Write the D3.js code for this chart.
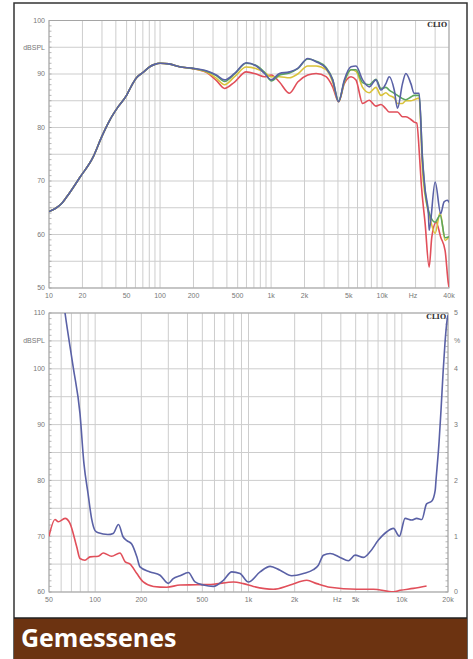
<!DOCTYPE html>
<html lang="de">
<head>
<meta charset="UTF-8">
<script src="https://d3js.org/d3.v7.min.js"></script>
<title>Gemessenes</title>
<style>
  body { margin: 0; background: #fff; }
  svg { display: block; }
  .lbl { font-family: "Liberation Sans", Arial, sans-serif; font-size: 7px; fill: #777; }
  .clio { font-family: "DejaVu Serif", serif; font-size: 7px; font-weight: bold; fill: #333; }
</style>
</head>
<body>
<div id="chart"></div>
<script>
// ---- data: frequency response (Hz, dB) ----
const topBlue = [[10,64.3],[11.5,64.9],[13,65.8],[14.4,67.0],[19,70.7],[25,74.5],[30,78.4],[35.3,81.4],[42,83.9],[49.9,86.0],[55.3,87.8],[61.4,89.3],[70.3,90.3],[80.8,91.35],[89.6,91.8],[100,92.0],[120,91.9],[150,91.35],[198,91.05],[261,90.6],[321,89.8],[381,88.9],[469,90.1],[597,92.1],[735,91.5],[873,90.1],[1003,88.9],[1189,90.1],[1463,90.4],[1738,91.05],[2138,92.9],[2543,92.3],[3128,91.05],[3583,88.9],[4057,84.8],[4564,88.9],[5244,91.35],[5815,91.5],[6668,88.9],[7658,87.6],[8796,88.9],[9753,87.0],[10810,88.2],[11580,89.5],[12850,87.0],[13750,83.6],[15250,88.2],[16350,90.1],[18150,88.2],[19420,86.4],[21540,86.4],[23070,73.9],[24400,68.3],[26100,63.9],[26500,60.8],[30000,69.8],[33700,63.9],[36100,66.1],[38700,66.4],[40000,66.0]];
const topGreen = [[10,64.3],[11.5,64.9],[13,65.8],[14.4,67.0],[19,70.7],[25,74.5],[30,78.4],[35.3,81.4],[42,83.9],[49.9,86.0],[55.3,87.8],[61.4,89.3],[70.3,90.3],[80.8,91.35],[89.6,91.8],[100,92.0],[120,91.9],[150,91.35],[198,91.05],[261,90.5],[321,89.7],[381,88.6],[469,90.0],[597,92.0],[735,91.6],[873,90.3],[1003,88.7],[1189,89.8],[1463,90.2],[1738,91.0],[2138,92.8],[2543,92.4],[3128,91.2],[3583,89.0],[4057,84.9],[4564,88.6],[5244,90.8],[5815,90.8],[6668,88.4],[7658,88.0],[8796,89.0],[9753,87.3],[10810,87.5],[11580,87.0],[12850,86.4],[13750,86.0],[15250,85.4],[16350,85.2],[18150,85.7],[19420,86.0],[21540,86.0],[23070,74.5],[24400,68.0],[27000,63.6],[30000,62.3],[33300,63.6],[36900,59.4],[40000,59.6]];
const topYellow = [[10,64.3],[11.5,64.9],[13,65.8],[14.4,67.0],[19,70.7],[25,74.5],[30,78.4],[35.3,81.4],[42,83.9],[49.9,86.0],[55.3,87.8],[61.4,89.3],[70.3,90.3],[80.8,91.35],[89.6,91.8],[100,92.0],[120,91.9],[150,91.35],[198,91.0],[261,90.4],[321,89.2],[381,88.0],[469,89.5],[597,91.3],[735,91.0],[873,90.3],[1003,89.5],[1189,89.5],[1463,89.3],[1738,90.0],[2138,91.5],[2543,91.5],[3128,90.8],[3583,88.5],[4057,84.8],[4564,88.5],[5244,90.8],[5815,90.5],[6668,87.5],[7658,86.5],[8796,87.5],[9753,86.0],[10810,86.5],[11580,86.0],[12850,85.5],[13750,84.5],[15250,84.5],[16350,85.0],[18150,85.0],[19420,85.2],[21540,85.5],[23070,72.0],[25000,66.0],[27000,63.0],[30000,60.2],[33300,64.1],[36900,58.9],[40000,59.6]];
const topRed = [[10,64.3],[11.5,64.9],[13,65.8],[14.4,67.0],[19,70.7],[25,74.5],[30,78.4],[35.3,81.4],[42,83.9],[49.9,86.0],[55.3,87.8],[61.4,89.3],[70.3,90.3],[80.8,91.35],[89.6,91.8],[100,92.0],[120,91.9],[150,91.35],[198,91.0],[261,90.3],[321,88.8],[381,87.3],[469,88.5],[597,90.4],[735,90.0],[873,89.5],[1003,89.8],[1189,88.5],[1463,86.4],[1738,88.5],[2138,89.8],[2543,90.1],[3128,89.5],[3583,87.6],[4057,84.8],[4564,88.2],[5244,89.5],[5815,88.9],[6668,84.5],[7658,85.1],[8796,84.0],[9753,84.3],[10810,83.5],[11580,82.9],[12850,82.9],[13750,82.9],[15250,82.0],[16350,82.0],[18150,81.5],[19420,81.0],[20500,80.8],[21800,74.0],[22500,69.5],[24400,62.0],[26500,53.9],[28000,59.5],[30600,62.3],[33700,59.5],[36900,57.0],[39500,50.8],[40000,50.2]];

// ---- data: distortion (Hz, %) ----
const botBlue = [[50,7.5],[63.6,5.0],[72,4.02],[79.6,3.2],[84.5,2.3],[90,1.75],[95,1.3],[99.8,1.10],[104.9,1.06],[121,1.03],[131,1.05],[142,1.21],[152,0.99],[161,0.92],[173,0.86],[187,0.63],[196,0.45],[228,0.36],[265,0.30],[300,0.155],[323,0.24],[358,0.29],[405,0.35],[448,0.18],[508,0.125],[590,0.10],[686,0.21],[778,0.36],[881,0.33],[998,0.18],[1190,0.36],[1383,0.46],[1606,0.39],[1915,0.29],[2280,0.33],[2649,0.40],[2856,0.48],[3078,0.66],[3404,0.69],[3956,0.62],[4482,0.56],[4955,0.66],[5614,0.62],[6207,0.72],[7034,0.93],[7980,1.08],[8810,1.14],[9640,1.00],[10500,1.32],[11600,1.29],[12500,1.32],[13500,1.30],[14500,1.58],[15700,1.63],[16500,1.82],[16700,2.0],[17500,2.7],[18000,3.25],[18600,3.96],[19100,4.45],[19700,4.86],[20000,4.96]];
const botRed = [[50,1.0],[54.7,1.30],[57.5,1.26],[63.6,1.32],[68.5,1.23],[75.8,0.81],[79.6,0.60],[85.8,0.57],[92.6,0.63],[104.9,0.64],[113,0.70],[128,0.64],[145,0.70],[157,0.54],[169,0.50],[187,0.33],[206,0.18],[240,0.10],[293,0.085],[358,0.125],[460,0.13],[590,0.14],[797,0.18],[926,0.15],[1076,0.10],[1453,0.05],[1867,0.125],[2399,0.21],[2788,0.15],[3404,0.085],[5083,0.05],[6525,0.05],[8810,0.005],[9740,0.03],[11900,0.065],[14500,0.107]];

// ---- tick labels ----
const topXTicks = [10, 20, 50, 100, 200, 500, 1000, 2000, 5000, 10000, 40000];
const topXLabels = ["10", "20", "50", "100", "200", "500", "1k", "2k", "5k", "10k", "40k"];
const topYTicks = [100, 90, 80, 70, 60, 50];
const botXTicks = [50, 100, 200, 500, 1000, 2000, 5000, 10000, 20000];
const botXLabels = ["50", "100", "200", "500", "1k", "2k", "5k", "10k", "20k"];
const botYTicks = [110, 100, 90, 80, 70, 60];
const botPTicks = [5, 4, 3, 2, 1, 0];

const colors = { blue: "#5a61a6", green: "#5ca55e", yellow: "#d9c23a", red: "#e14f5a" };

const width = 473, height = 659;
const svg = d3.select("#chart").append("svg")
  .attr("width", width).attr("height", height);

// frame + brown caption band
svg.append("rect").attr("x", 14).attr("y", 3).attr("width", 453).attr("height", 656)
  .attr("fill", "#fff").attr("stroke", "#333").attr("stroke-width", 1.5);
svg.append("rect").attr("x", 14).attr("y", 618).attr("width", 453).attr("height", 41)
  .attr("fill", "#6c3311");
svg.append("line").attr("x1", 14).attr("x2", 467).attr("y1", 618).attr("y2", 618)
  .attr("stroke", "#222").attr("stroke-width", 1.5);
svg.append("text").attr("x", 21).attr("y", 647)
  .attr("font-family", "'Open Sans', sans-serif").attr("font-weight", 700)
  .attr("font-size", "25px").attr("fill", "#fff").text("Gemessenes");

// log grid values (1..9 per decade) inside a domain
function logGrid(min, max) {
  const out = [];
  for (let d = Math.pow(10, Math.floor(Math.log10(min))); d <= max; d *= 10) {
    for (let m = 1; m < 10; m++) {
      const v = m * d;
      if (v >= min - 1e-6 && v <= max + 1e-6) out.push(v);
    }
  }
  return out;
}

function drawPanel(p) {
  const [x0, x1] = p.x.range();
  const [yb, yt] = p.y.range();
  const g = svg.append("g");

  const id = "clip" + p.name;
  svg.append("clipPath").attr("id", id).append("rect")
    .attr("x", x0).attr("y", yt).attr("width", x1 - x0).attr("height", yb - yt);

  // vertical grid
  g.selectAll(".vg").data(logGrid(...p.x.domain())).join("line")
    .attr("x1", d => p.x(d)).attr("x2", d => p.x(d))
    .attr("y1", yt).attr("y2", yb)
    .attr("stroke", "#cdcdcd").attr("stroke-width", 1);

  // horizontal grid every 5 dB
  g.selectAll(".hg").data(d3.range(p.y.domain()[0], p.y.domain()[1] + 1, 5)).join("line")
    .attr("x1", x0).attr("x2", x1)
    .attr("y1", d => p.y(d)).attr("y2", d => p.y(d))
    .attr("stroke", "#cdcdcd").attr("stroke-width", 1);

  // minor ticks on the left axis
  g.selectAll(".mt").data(d3.range(p.y.domain()[0], p.y.domain()[1] + 1, 1)).join("line")
    .attr("x1", x0).attr("x2", x0 + 2.5)
    .attr("y1", d => p.y(d)).attr("y2", d => p.y(d))
    .attr("stroke", "#999").attr("stroke-width", 0.7);

  if (p.p) {
    g.selectAll(".mtr").data(d3.range(0, 5.01, 0.1)).join("line")
      .attr("x1", x1 - 2.5).attr("x2", x1)
      .attr("y1", d => p.p(d)).attr("y2", d => p.p(d))
      .attr("stroke", "#999").attr("stroke-width", 0.7);
  }

  // plot border
  g.append("rect").attr("x", x0).attr("y", yt).attr("width", x1 - x0).attr("height", yb - yt)
    .attr("fill", "none").attr("stroke", "#a5a5a5").attr("stroke-width", 1);

  // x labels
  g.selectAll(".xl").data(p.xTicks).join("text").attr("class", "lbl")
    .attr("x", d => p.x(d)).attr("y", yb + 10).attr("text-anchor", "middle")
    .text((d, i) => p.xLabels[i]);
  g.append("text").attr("class", "lbl").attr("x", p.x(p.hz)).attr("y", yb + 10)
    .attr("text-anchor", "middle").text("Hz");

  // left labels
  g.selectAll(".yl").data(p.yTicks).join("text").attr("class", "lbl")
    .attr("x", x0 - 4).attr("y", d => p.y(d)).attr("dy", "0.35em").attr("text-anchor", "end")
    .text(d => d);
  g.append("text").attr("class", "lbl").attr("x", x0 - 4).attr("y", p.y(p.yTicks[0] - 5))
    .attr("dy", "0.35em").attr("text-anchor", "end").text("dBSPL");

  if (p.p) {
    g.selectAll(".pl").data(botPTicks).join("text").attr("class", "lbl")
      .attr("x", x1 + 6).attr("y", d => p.p(d)).attr("dy", "0.35em")
      .text(d => d);
    g.append("text").attr("class", "lbl").attr("x", x1 + 6).attr("y", p.p(4.5))
      .attr("dy", "0.35em").text("%");
  }

  g.append("text").attr("class", "clio").attr("x", x1 - 2).attr("y", yt + 6)
    .attr("text-anchor", "end").text("CLIO");

  // curves
  const lines = g.append("g").attr("clip-path", `url(#${id})`);
  p.series.forEach(s => {
    const ys = s.scale || p.y;
    lines.append("path")
      .attr("d", d3.line().x(d => p.x(d[0])).y(d => ys(d[1])).curve(d3.curveMonotoneX)(s.data))
      .attr("fill", "none").attr("stroke", s.color).attr("stroke-width", 1.6)
      .attr("stroke-linejoin", "round");
  });
}

const topX = d3.scaleLog().domain([10, 40000]).range([49, 449]);
const topY = d3.scaleLinear().domain([50, 100]).range([288, 20.5]);
drawPanel({
  name: "top", x: topX, y: topY,
  xTicks: topXTicks, xLabels: topXLabels, yTicks: topYTicks, hz: 19000,
  series: [
    { data: topRed, color: colors.red },
    { data: topYellow, color: colors.yellow },
    { data: topGreen, color: colors.green },
    { data: topBlue, color: colors.blue }
  ]
});

const botX = d3.scaleLog().domain([50, 20000]).range([49, 448]);
const botY = d3.scaleLinear().domain([60, 110]).range([592, 313]);
const botP = d3.scaleLinear().domain([0, 5]).range([592, 313]);
drawPanel({
  name: "bot", x: botX, y: botY, p: botP,
  xTicks: botXTicks, xLabels: botXLabels, yTicks: botYTicks, hz: 3800,
  series: [
    { data: botRed, color: colors.red, scale: botP },
    { data: botBlue, color: colors.blue, scale: botP }
  ]
});
</script>
</body>
</html>
